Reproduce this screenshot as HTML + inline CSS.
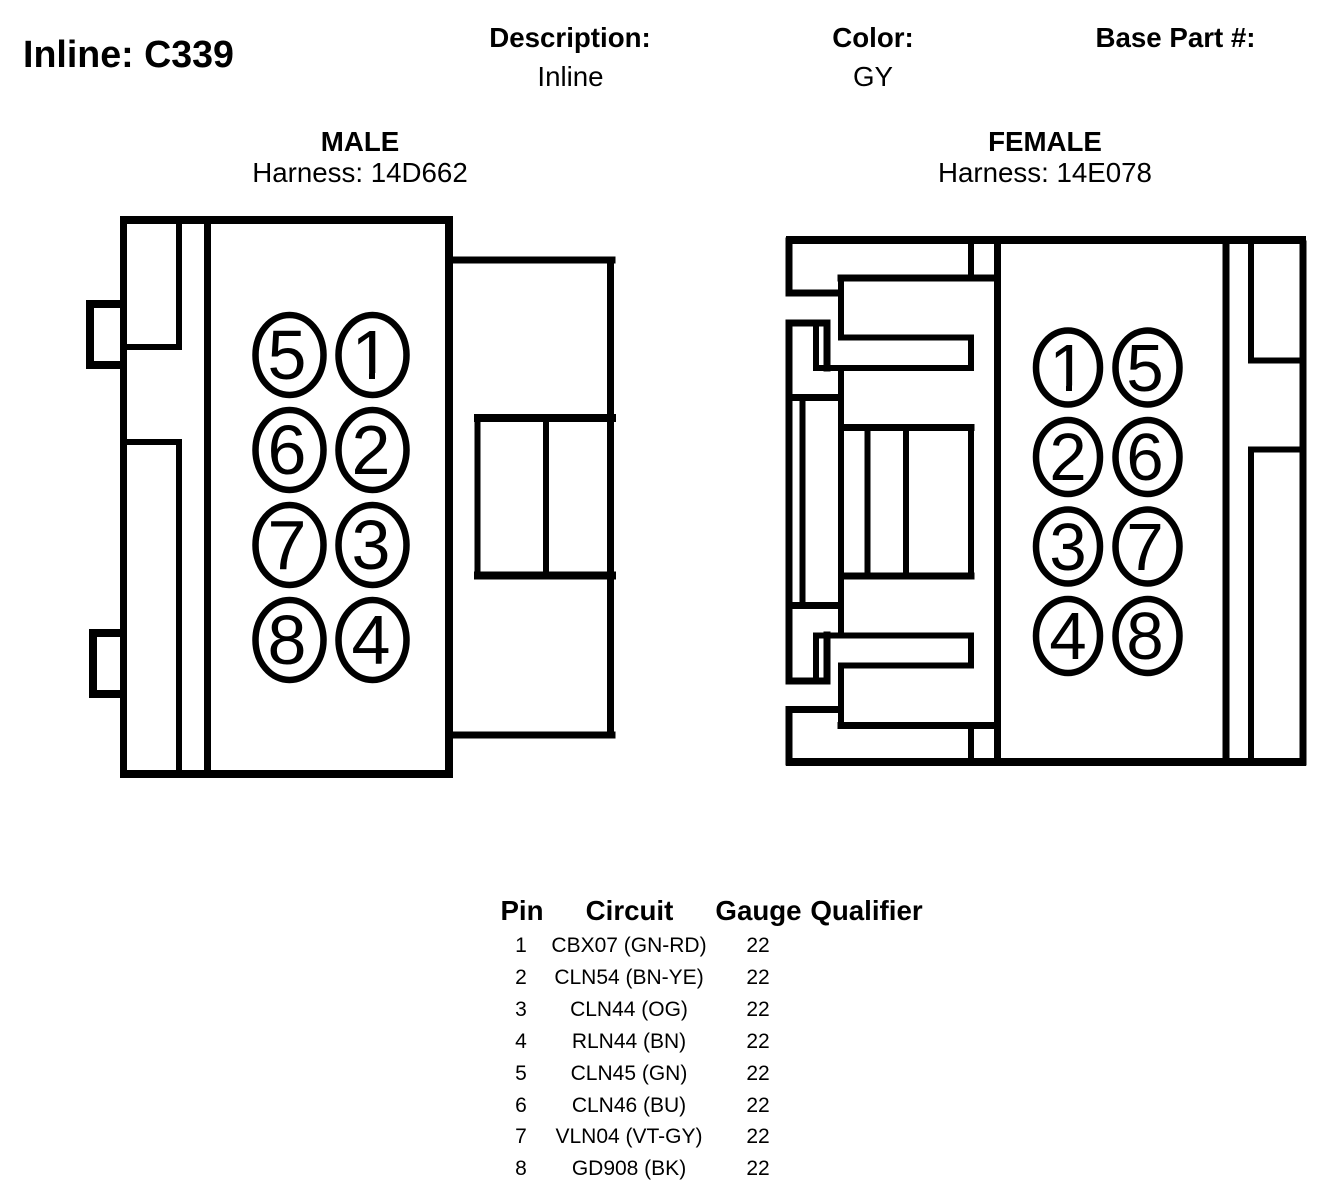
<!DOCTYPE html>
<html>
<head>
<meta charset="utf-8">
<style>
html,body{margin:0;padding:0;background:#fff;}
svg{display:block;}
text{font-family:"Liberation Sans",Arial,sans-serif;fill:#000;}
.b{font-weight:bold;}
.h{font-size:27.7px;text-anchor:middle;}
.t{font-size:21px;text-anchor:middle;}
.th{font-size:27.7px;font-weight:bold;text-anchor:middle;}
.d{font-size:70px;text-anchor:middle;}
.f{font-size:67px;text-anchor:middle;}
</style>
</head>
<body>
<svg width="1344" height="1202" viewBox="0 0 1344 1202" xmlns="http://www.w3.org/2000/svg">
<rect width="1344" height="1202" fill="#fff"/>

<text x="23" y="67" class="b" font-size="37.6">Inline: C339</text>
<text x="570" y="47" class="h b">Description:</text>
<text x="570.500" y="86" class="h">Inline</text>
<text x="873" y="47" class="h b">Color:</text>
<text x="873" y="86" class="h">GY</text>
<text x="1175.500" y="47" class="h b">Base Part #:</text>

<text x="360" y="151" class="h b">MALE</text>
<text x="360" y="182" class="h">Harness: 14D662</text>
<text x="1045" y="151" class="h b">FEMALE</text>
<text x="1045" y="182" class="h">Harness: 14E078</text>

<!-- MALE connector -->
<g fill="none" stroke="#000" stroke-linecap="square" shape-rendering="crispEdges">
  <path stroke-width="8" d="M124 220H449V774H124"/>
  <path stroke-width="7" d="M123.500 220V774"/>
  <path stroke-width="6" d="M179 220V347H124M124 442H179V774"/>
  <path stroke-width="7" d="M207.500 220V774"/>
  <path stroke-width="8" d="M120 304H90V365H120M120 633H93V694H120"/>
  <path stroke-width="7" d="M449 260H612M610.500 260V735M449 735H612"/>
  <path stroke-width="8" d="M612 418H478M612 575.500H478"/>
  <path stroke-width="6" d="M477.500 418V575.500"/>
  <path stroke-width="6" d="M546 418V575"/>
</g>
<g fill="none" stroke="#000" stroke-width="6.500">
  <ellipse cx="289.500" cy="355" rx="34" ry="40"/>
  <ellipse cx="372.500" cy="355" rx="34" ry="40"/>
  <ellipse cx="289.500" cy="450" rx="34" ry="40"/>
  <ellipse cx="372.500" cy="450" rx="34" ry="40"/>
  <ellipse cx="289.500" cy="545" rx="34" ry="40"/>
  <ellipse cx="372.500" cy="545" rx="34" ry="40"/>
  <ellipse cx="289.500" cy="640" rx="34" ry="40"/>
  <ellipse cx="372.500" cy="640" rx="34" ry="40"/>
</g>
<text x="287" y="379" class="d">5</text>
<text x="371" y="379" class="d">1</text>
<rect x="354" y="373" width="15" height="7" fill="#fff"/>
<rect x="375" y="373" width="15" height="7" fill="#fff"/>
<text x="287" y="474" class="d">6</text>
<text x="371" y="474" class="d">2</text>
<text x="287" y="569" class="d">7</text>
<text x="371" y="569" class="d">3</text>
<text x="287" y="664" class="d">8</text>
<text x="371" y="664" class="d">4</text>

<!-- FEMALE connector -->
<g fill="none" stroke="#000" stroke-linecap="square" shape-rendering="crispEdges">
  <path stroke-width="8" d="M790 240H1302M790 762H1302"/>
  <path stroke-width="7" d="M789 241V293H838M789 709.500V762M789 709.500H838"/>
  <path stroke-width="7" d="M841 278H997M841 725.500H997"/>
  <path stroke-width="6" d="M841 278V337.500H971V368H816V323M841 725.500V665.500H971V635.500H816V681"/>
  <path stroke-width="7" d="M997.500 240V762"/>
  <path stroke-width="6" d="M971 240V278M971 725V762"/>
  <path stroke-width="7" d="M789 323H827V368M789 323V681H827V635"/>
  <path stroke-width="7" d="M789 397.500H838M789 605.500H838"/>
  <path stroke-width="6" d="M802.500 397V605M841 368V635"/>
  <path stroke-width="7" d="M843 427.500H971M843 576H971"/>
  <path stroke-width="6" d="M971 427V576"/>
  <path stroke-width="6" d="M867.500 427V576M906 427V576"/>
  <path stroke-width="7" d="M1226 240V762M1303 244V762"/>
  <path stroke-width="6" d="M1251 240V360.500H1303M1251 762V449.500H1303"/>
</g>
<g fill="none" stroke="#000" stroke-width="6.500">
  <ellipse cx="1068" cy="367.500" rx="32" ry="37"/>
  <ellipse cx="1147.500" cy="367.500" rx="32" ry="37"/>
  <ellipse cx="1068" cy="457" rx="32" ry="37"/>
  <ellipse cx="1147.500" cy="457" rx="32" ry="37"/>
  <ellipse cx="1068" cy="546.500" rx="32" ry="37"/>
  <ellipse cx="1147.500" cy="546.500" rx="32" ry="37"/>
  <ellipse cx="1068" cy="636" rx="32" ry="37"/>
  <ellipse cx="1147.500" cy="636" rx="32" ry="37"/>
</g>
<text x="1068" y="391" class="f">1</text>
<rect x="1052" y="385.500" width="14" height="6.500" fill="#fff"/>
<rect x="1072" y="385.500" width="15" height="6.500" fill="#fff"/>
<text x="1145" y="391" class="f">5</text>
<text x="1068" y="480" class="f">2</text>
<text x="1145" y="480" class="f">6</text>
<text x="1068" y="570" class="f">3</text>
<text x="1145" y="570" class="f">7</text>
<text x="1068" y="659" class="f">4</text>
<text x="1145" y="659" class="f">8</text>

<!-- Table -->
<text x="522" y="920" class="th">Pin</text>
<text x="629.500" y="920" class="th">Circuit</text>
<text x="758.500" y="920" class="th">Gauge</text>
<text x="866.500" y="920" class="th">Qualifier</text>

<text x="521" y="952" class="t">1</text><text x="629" y="952" class="t">CBX07 (GN-RD)</text><text x="758" y="952" class="t">22</text>
<text x="521" y="984" class="t">2</text><text x="629" y="984" class="t">CLN54 (BN-YE)</text><text x="758" y="984" class="t">22</text>
<text x="521" y="1016" class="t">3</text><text x="629" y="1016" class="t">CLN44 (OG)</text><text x="758" y="1016" class="t">22</text>
<text x="521" y="1048" class="t">4</text><text x="629" y="1048" class="t">RLN44 (BN)</text><text x="758" y="1048" class="t">22</text>
<text x="521" y="1080" class="t">5</text><text x="629" y="1080" class="t">CLN45 (GN)</text><text x="758" y="1080" class="t">22</text>
<text x="521" y="1112" class="t">6</text><text x="629" y="1112" class="t">CLN46 (BU)</text><text x="758" y="1112" class="t">22</text>
<text x="521" y="1143" class="t">7</text><text x="629" y="1143" class="t">VLN04 (VT-GY)</text><text x="758" y="1143" class="t">22</text>
<text x="521" y="1175" class="t">8</text><text x="629" y="1175" class="t">GD908 (BK)</text><text x="758" y="1175" class="t">22</text>
</svg>
</body>
</html>
